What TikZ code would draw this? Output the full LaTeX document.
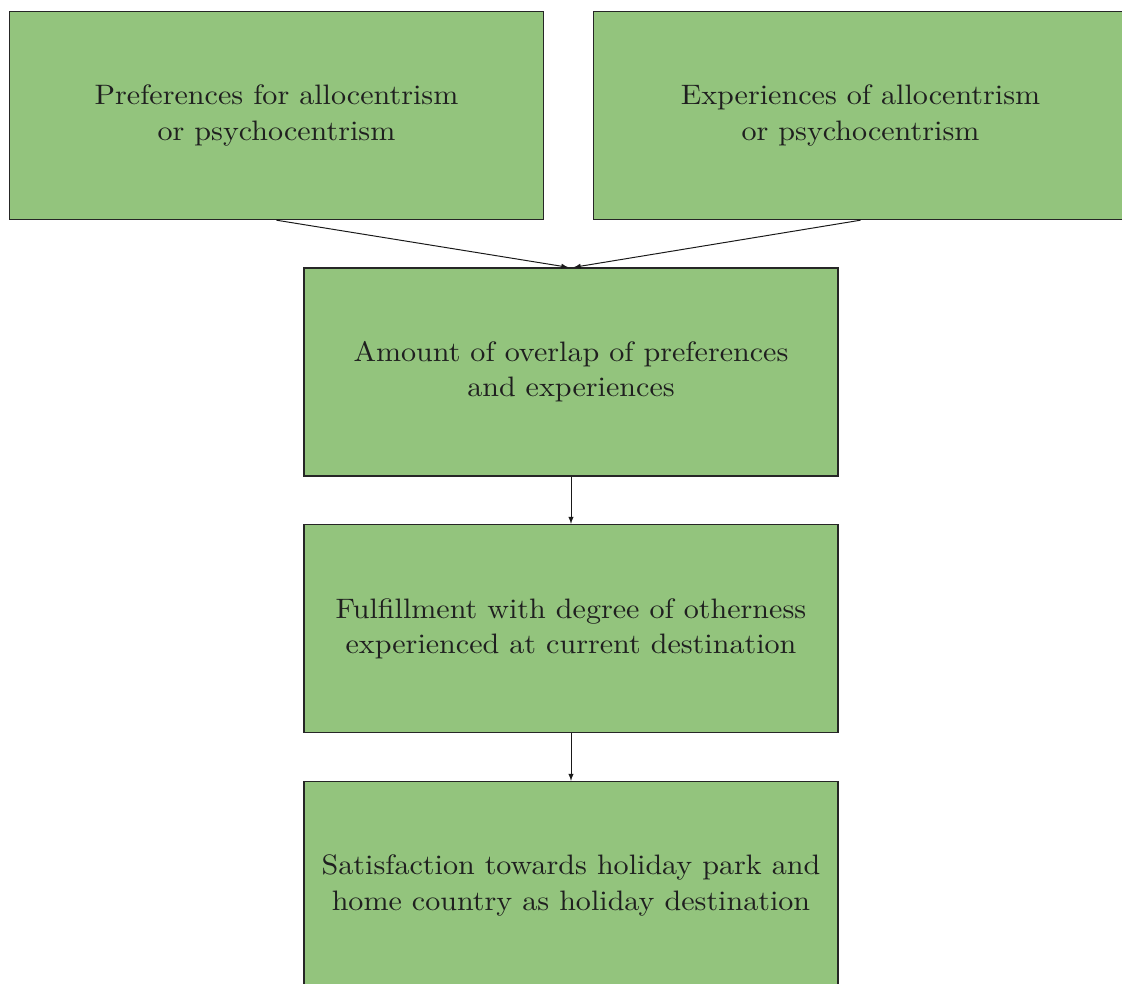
\documentclass[tikz,border=0pt]{standalone}
\usepackage{fontspec}
\setmainfont{lmroman10-regular.otf}[FakeStretch=1.07]
\usepackage{tikz}
\usetikzlibrary{arrows}

\definecolor{boxgreen}{HTML}{93C47D}
\definecolor{boxtext}{HTML}{1F1F1F}

\tikzset{
	factor/.style={draw=black!85, fill=boxgreen, line width=1pt, text=boxtext,
		minimum width=13.35cm, minimum height=5.2cm, inner sep=0pt, align=center,
		font=\fontsize{20}{25}\selectfont},
	link/.style={arrows={-latex}, line width=0.7pt, black!90}
}

\begin{document}
\begin{tikzpicture}

	\useasboundingbox (0,0) rectangle (28.05,-24.6);
	\clip (0,0) rectangle (28.05,-24.6);

	\node [factor] (pref) at (6.9125,-2.8875) {Preferences for allocentrism\\or psychocentrism};
	\node [factor] (exper) at (21.5125,-2.8875) {Experiences of allocentrism\\or psychocentrism};
	\node [factor] (overlap) at (14.275,-9.3) {Amount of overlap of preferences\\and experiences};
	\node [factor] (fulfil) at (14.275,-15.7125) {Fulfillment with degree of otherness\\experienced at current destination};
	\node [factor] (satis) at (14.275,-22.1375) {Satisfaction towards holiday park and\\home country as holiday destination};

	\draw [link] (pref.south) -- ([xshift=-0.07cm]overlap.north);
	\draw [link] (exper.south) -- ([xshift=0.07cm]overlap.north);
	\draw [link] (overlap) -- (fulfil);
	\draw [link] (fulfil) -- (satis);

\end{tikzpicture}
\end{document}
